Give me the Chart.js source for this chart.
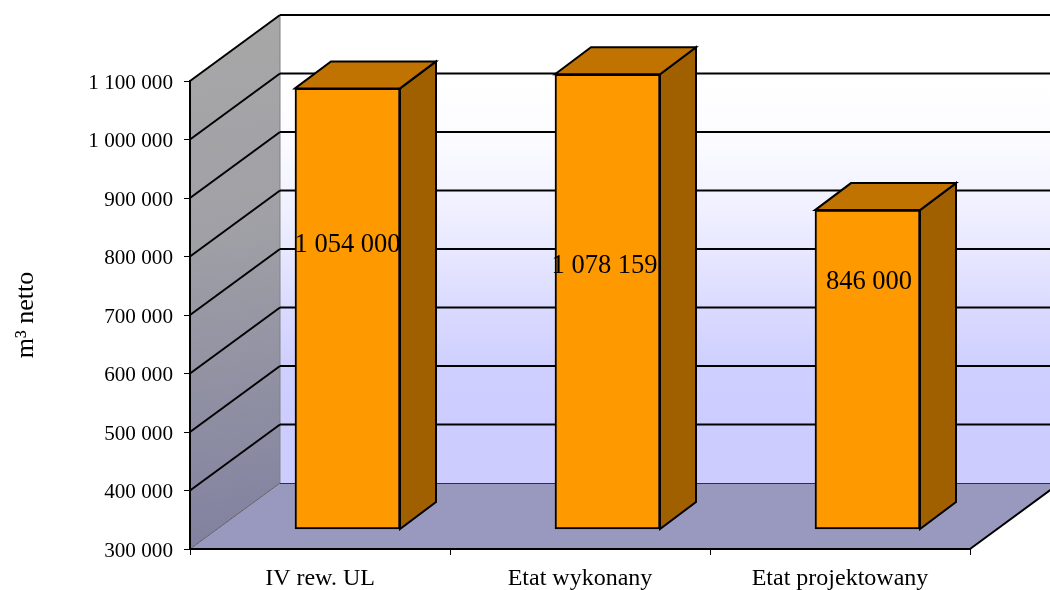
<!DOCTYPE html>
<html>
<head>
<meta charset="utf-8">
<style>html,body{margin:0;padding:0;background:#fff}canvas{display:block}</style>
<script src="https://cdn.jsdelivr.net/npm/chart.js@4"></script>
</head>
<body>
<canvas id="c" width="1050" height="590"></canvas>
<script>
const categories = ["IV rew. UL", "Etat wykonany", "Etat projektowany"];
const values = [1054000, 1078159, 846000];
const axisMin = 300000;
const axisMax = 1100000;
const axisStep = 100000;
const axisTitle = "m\u00B3 netto";

// 3D look (styles and projection, not data)
const FONT = '"Liberation Serif", "Times New Roman", serif';
const WALL = {dx: 90, dy: 66};
const BAR_SHIFT = {dx: 27.5, dy: 19.5};
const BAR_SIDE = {dx: 36, dy: 27};
const LABEL_NUDGE = [[0, -63], [-3, -35], [1.5, -87]];
const TICK_NUDGE_Y = 2;
const BACK_WALL_STOPS = [[0, "#ffffff"], [0.14, "#ffffff"], [0.25, "#fcfcff"], [0.37, "#f4f4ff"], [0.5, "#e8e8ff"], [0.625, "#dadaff"], [0.75, "#cfcfff"], [0.88, "#ccccff"], [1, "#ccccff"]];

const fmt = v => String(v).replace(/\B(?=(\d{3})+$)/g, " ");

function poly(ctx, pts, fill, stroke, lw) {
  ctx.beginPath();
  pts.forEach((p, i) => i ? ctx.lineTo(p[0], p[1]) : ctx.moveTo(p[0], p[1]));
  ctx.closePath();
  if (fill) { ctx.fillStyle = fill; ctx.fill(); }
  if (stroke) { ctx.strokeStyle = stroke; ctx.lineWidth = lw || 1; ctx.stroke(); }
}
function seg(ctx, a, b, color, lw) {
  ctx.beginPath(); ctx.moveTo(a[0], a[1]); ctx.lineTo(b[0], b[1]);
  ctx.strokeStyle = color; ctx.lineWidth = lw; ctx.stroke();
}

const walls = {
  id: "walls",
  beforeDraw(chart) {
    const {ctx, chartArea: a, scales: {y}} = chart;
    const L = a.left, R = a.right, T = a.top, B = a.bottom;
    const dx = WALL.dx, dy = WALL.dy;
    y.getLabelItems().forEach(it => { it.options.translation[1] += TICK_NUDGE_Y; });
    ctx.save();
    // back wall
    let g = ctx.createLinearGradient(0, T - dy, 0, B - dy);
    BACK_WALL_STOPS.forEach(s => g.addColorStop(s[0], s[1]));
    ctx.fillStyle = g;
    ctx.fillRect(L + dx, T - dy, R - L, B - T);
    // left wall
    g = ctx.createLinearGradient(L, T - dy, L + dx, B);
    g.addColorStop(0, "#a8a8a8");
    g.addColorStop(0.4, "#a0a0a6");
    g.addColorStop(1, "#8080a0");
    poly(ctx, [[L, T], [L + dx, T - dy], [L + dx, B - dy], [L, B]], g);
    // floor
    poly(ctx, [[L, B], [L + dx, B - dy], [R + dx, B - dy], [R, B]], "#9999c0");
    // wall seams
    seg(ctx, [L + dx, T - dy], [L + dx, B - dy], "#808080", 1);
    seg(ctx, [L, B], [L + dx, B - dy], "#606060", 1);
    seg(ctx, [R, B], [R + dx, B - dy], "#000000", 2);
    seg(ctx, [L + dx, B - dy + 0.5], [R + dx, B - dy + 0.5], "#303030", 1);
    // grid
    for (let v = axisMin + axisStep; v <= axisMax; v += axisStep) {
      const p = y.getPixelForValue(v);
      seg(ctx, [L, p], [L + dx, p - dy], "#000000", 2);
      seg(ctx, [L + dx, p - dy], [R + dx, p - dy], "#000000", 2);
    }
    ctx.restore();
  },
  beforeDatasetDraw(chart, args) {
    const ctx = chart.ctx;
    ctx.save();
    ctx.translate(BAR_SHIFT.dx, -BAR_SHIFT.dy);
    const sd = BAR_SIDE;
    args.meta.data.forEach(b => {
      const l = b.x - b.width / 2, r = b.x + b.width / 2, t = b.y, bt = b.base;
      ctx.lineJoin = "miter";
      poly(ctx, [[r, t], [r + sd.dx, t - sd.dy], [r + sd.dx, bt - sd.dy], [r, bt]], "#a06000", "#000000", 2);
      poly(ctx, [[l, t], [l + sd.dx, t - sd.dy], [r + sd.dx, t - sd.dy], [r, t]], "#c07300", "#000000", 2);
    });
  },
  afterDatasetDraw(chart) {
    chart.ctx.restore();
  },
  afterDatasetsDraw(chart) {
    const ctx = chart.ctx;
    const meta = chart.getDatasetMeta(0);
    ctx.save();
    ctx.font = "26.5px " + FONT;
    ctx.fillStyle = "#000000";
    ctx.textAlign = "center";
    ctx.textBaseline = "middle";
    meta.data.forEach((b, i) => {
      const cy = (b.y + b.base) / 2 - 20;
      ctx.fillText(fmt(values[i]), b.x + BAR_SHIFT.dx + LABEL_NUDGE[i][0], cy + LABEL_NUDGE[i][1]);
    });
    ctx.restore();
  }
};

new Chart(document.getElementById("c"), {
  type: "bar",
  data: {
    labels: categories,
    datasets: [{
      data: values,
      base: axisMin,
      backgroundColor: "#ff9900",
      borderColor: "#000000",
      borderWidth: 2,
      borderSkipped: false,
      barThickness: 105,
      clip: false
    }]
  },
  plugins: [walls],
  options: {
    responsive: false,
    animation: false,
    events: [],
    layout: {padding: {top: 81, right: 80, left: 0, bottom: 0}},
    plugins: {legend: {display: false}, tooltip: {enabled: false}, title: {display: false}},
    scales: {
      x: {
        afterFit(s) { s.height = 41; },
        grid: {display: true, drawOnChartArea: false, drawTicks: true, tickLength: 6, color: "#000000", lineWidth: 1},
        border: {display: true, color: "#000000", width: 2},
        ticks: {color: "#000000", font: {family: FONT, size: 24}, padding: 9, maxRotation: 0}
      },
      y: {
        min: axisMin,
        max: axisMax,
        afterFit(s) { s.width = 190; },
        title: {display: true, text: axisTitle, color: "#000000", font: {family: FONT, size: 26}, padding: {top: 11, bottom: 0}},
        grid: {display: true, drawOnChartArea: false, drawTicks: true, tickLength: 6, color: "#000000", lineWidth: 1},
        border: {display: true, color: "#000000", width: 2},
        ticks: {stepSize: axisStep, color: "#000000", font: {family: FONT, size: 21.2}, padding: 11, callback: v => fmt(v)}
      }
    }
  }
});
</script>
</body>
</html>
